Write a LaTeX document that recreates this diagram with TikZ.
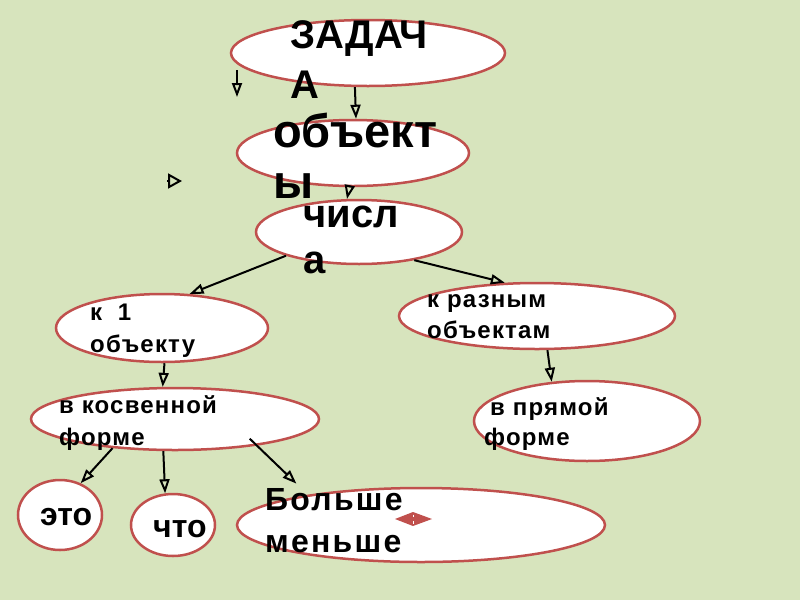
\documentclass[tikz,border=0pt]{standalone}
\usepackage{fontspec}
\setmainfont{Liberation Sans}
\usetikzlibrary{shapes.geometric,arrows.meta}
\definecolor{bggreen}{HTML}{D7E4BD}
\definecolor{ovalred}{HTML}{C0504D}
\tikzset{
  oval/.style={ellipse,draw=ovalred,line width=2.5pt,fill=white,inner sep=0pt},
  txt/.style={anchor=base west,align=left,inner sep=0pt},
  small/.style={txt,font=\bfseries\fontsize{24}{31}\selectfont\addfontfeatures{LetterSpace=5}},
  arr/.style={-{Triangle[open,length=14pt,width=10pt]},line width=2pt}
}
\begin{document}
\begin{tikzpicture}[x=1pt,y=-1pt]
\useasboundingbox (0,0) rectangle (800,600);
\fill[bggreen] (0,0) rectangle (800,600);
\foreach \n/\x/\y/\rx/\ry in {zad/368/53/137/33,obj/353/153/116/33,chis/359/232/103/32,
  k1/162/328/106/34,kraz/537/316/138/33,kosv/175/419/144/31,pryam/587/421/113/40,
  eto/60/515/42/35,chto/173/525/42/31,bm/421/525/184/37}
  \node[oval,minimum width=2*\rx,minimum height=2*\ry] (\n) at (\x,\y) {};
% texts, placed at the baseline of their last line
\node[txt,font=\bfseries\fontsize{40}{50}\selectfont] (tzad) at (290,98) {ЗАДАЧ\\А};
\node[txt,font=\bfseries\fontsize{47}{51}\selectfont] (tobj) at (273,198) {объект\\ы};
\node[txt,font=\bfseries\fontsize{40}{46}\selectfont] (tchis) at (303,273) {числ\\а};
\node[small,font=\bfseries\fontsize{24}{32}\selectfont\addfontfeatures{LetterSpace=5}] (tk1) at (90,352) {к\ \ 1\\объекту};
\node[small] (tkraz) at (427,338) {к разным\\объектам};
\node[small,font=\bfseries\fontsize{24}{32}\selectfont\addfontfeatures{LetterSpace=5}] (tkosv) at (59,445) {в косвенной\\форме};
\node[small,font=\bfseries\fontsize{24}{30}\selectfont\addfontfeatures{LetterSpace=5}] (tpryam) at (484,445) {\hspace*{6pt}в прямой\\форме};
\node[txt,font=\bfseries\fontsize{32}{42}\selectfont] (teto) at (40,525) {это};
\node[txt,font=\bfseries\fontsize{32}{42}\selectfont] (tchto) at (153,537) {что};
\node[txt,font=\bfseries\fontsize{32}{42}\selectfont\addfontfeatures{LetterSpace=7}] (tbm) at (265,552) {Больше\\меньше};
\fill[ovalred] (395,519) -- (413,512) -- (432,519) -- (413,526) -- cycle;
\draw[white,line width=0.6pt] (413,514.5) -- (413,517) (413,521) -- (413,523.5);
% arrows
\coordinate (f1a) at (237,70);
\coordinate (f1b) at (237,97);
\coordinate (f3a) at (167,181);
\coordinate (f3b) at (182,181);
\draw[arr] (f1a) -- (f1b);
\draw[-{Triangle[open,length=14pt,width=15pt]},line width=2pt] (f3a) -- (f3b);
\draw[arr] (zad.-111) -- (obj.85);
\draw[arr] (obj.-96) -- (chis.110);
\draw[arr] (chis.198) -- (k1.51);
\draw[arr] (chis.-27) -- (kraz.134);
\draw[arr] (k1.-86) -- (kosv.111);
\draw[arr] (kraz.-73) -- (pryam.132);
\draw[arr] (kosv.-155) -- (eto.57);
\draw[arr] (kosv.-110) -- (chto.104);
\draw[arr,shorten <=-10pt,shorten >=16pt] (kosv.-18) -- (bm.165);
\end{tikzpicture}
\end{document}
